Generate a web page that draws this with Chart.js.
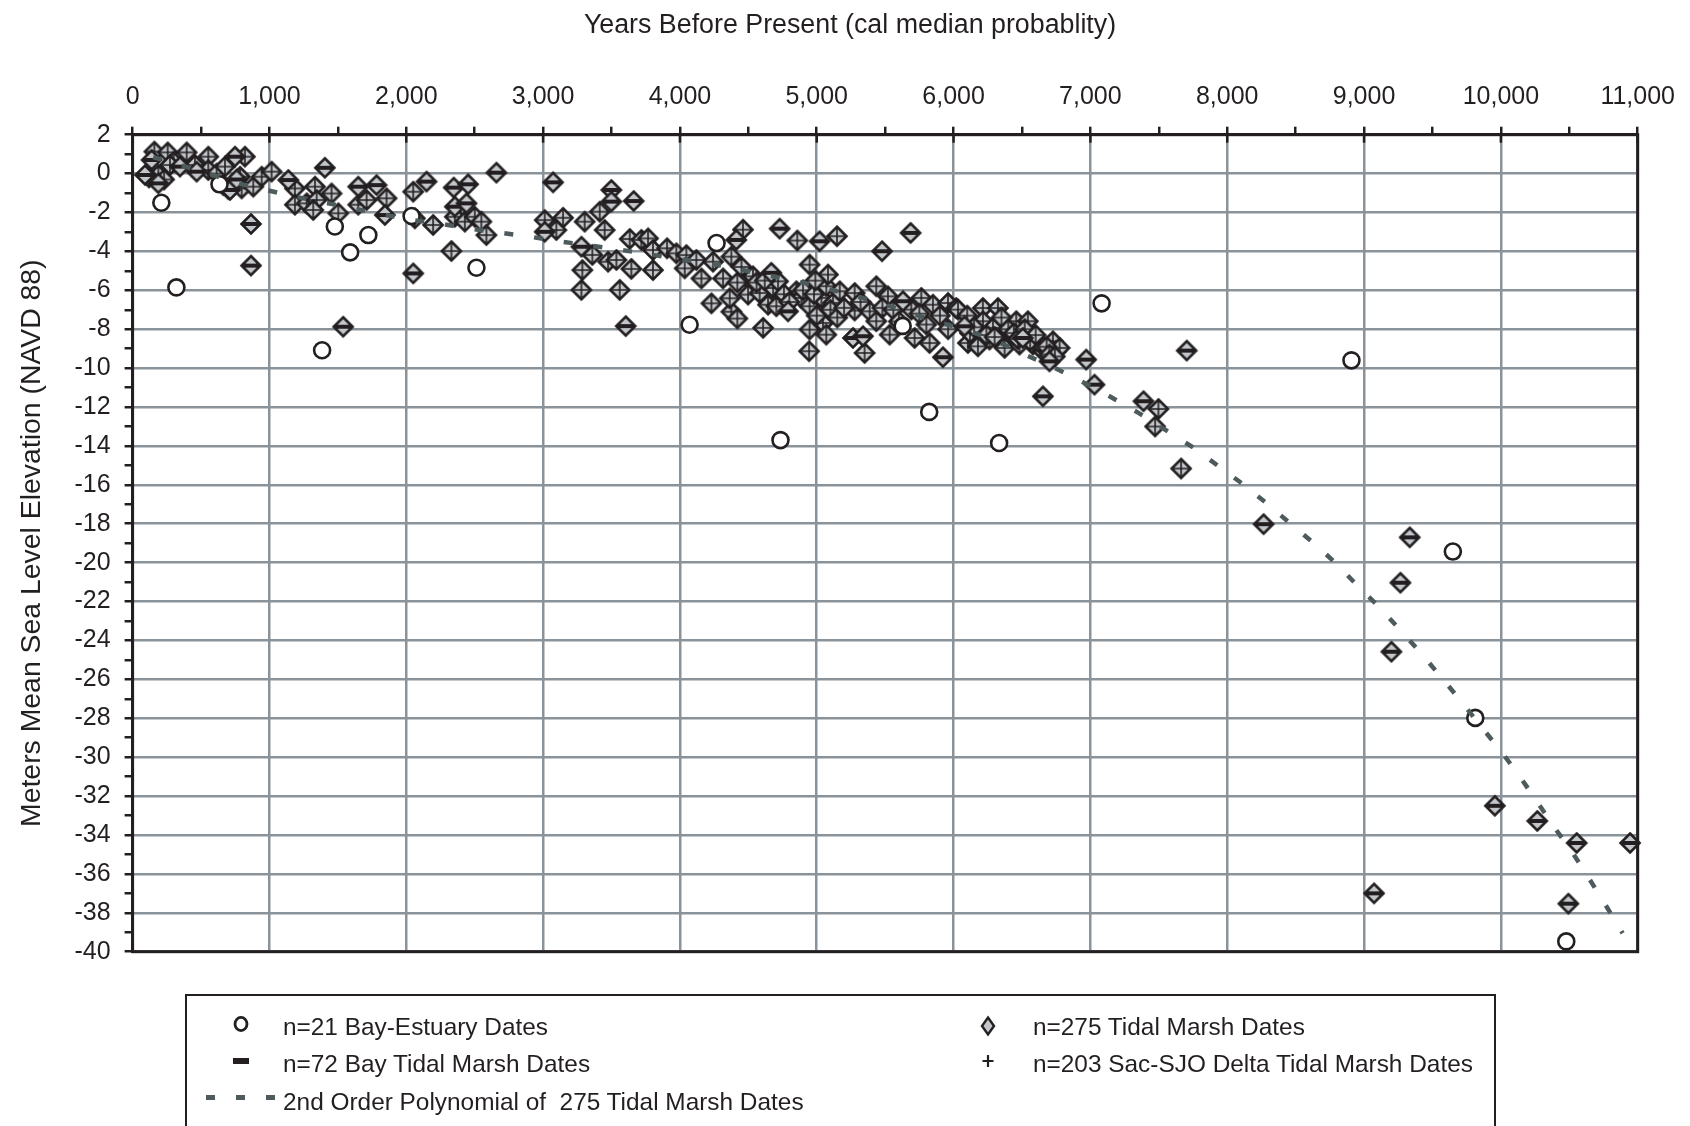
<!DOCTYPE html>
<html>
<head>
<meta charset="utf-8">
<script src="https://cdn.jsdelivr.net/npm/chart.js@4.4.1/dist/chart.umd.min.js"></script>
<style>
  html, body { margin: 0; padding: 0; background: #fff; overflow: hidden; }
  #wrap { position: relative; width: 1690px; height: 1126px; }
  #xtitle { position: absolute; left: 0; top: 8px; width: 1700px; text-align: center;
            font: 26.8px "Liberation Sans", Arial, sans-serif; color: #231f20; line-height: 32px; }
  #legend { position: absolute; left: 185px; top: 994px; width: 1311px; height: 150px;
            border: 2px solid #231f20; box-sizing: border-box; }
  .item { position: absolute; font: 24.4px "Liberation Sans", Arial, sans-serif; color: #231f20;
          line-height: 28px; white-space: pre; }
  .sym { position: absolute; }
</style>
</head>
<body>
<div id="wrap">
  <canvas id="chart" width="1690" height="1126"></canvas>
  <div id="xtitle">Years Before Present (cal median probablity)</div>
  <div id="legend">
    <svg class="sym" style="left:44px;top:18px" width="20" height="20"><ellipse cx="10" cy="10" rx="6" ry="6.6" fill="none" stroke="#231f20" stroke-width="2.8"/></svg>
    <div class="item" style="left:96px;top:17px">n=21 Bay-Estuary Dates</div>
    <svg class="sym" style="left:44px;top:55px" width="20" height="20"><rect x="2" y="7" width="16" height="6" fill="#231f20"/></svg>
    <div class="item" style="left:96px;top:54px">n=72 Bay Tidal Marsh Dates</div>
    <svg class="sym" style="left:16px;top:92px" width="76" height="20"><rect x="3" y="7" width="9" height="5" fill="#4d5b5d"/><rect x="33" y="7" width="9" height="5" fill="#4d5b5d"/><rect x="63" y="7" width="9" height="5" fill="#4d5b5d"/></svg>
    <div class="item" style="left:96px;top:92px">2nd Order Polynomial of  275 Tidal Marsh Dates</div>
    <svg class="sym" style="left:791px;top:19px" width="20" height="22"><path d="M10 2.5 L16 11 L10 19.5 L4 11 Z" fill="#c3c7cb" stroke="#231f20" stroke-width="2.4"/></svg>
    <div class="item" style="left:846px;top:17px">n=275 Tidal Marsh Dates</div>
    <svg class="sym" style="left:791px;top:55px" width="20" height="20"><path d="M10 4 V16 M4.5 10 H15.5" stroke="#231f20" stroke-width="2.2"/></svg>
    <div class="item" style="left:846px;top:54px">n=203 Sac-SJO Delta Tidal Marsh Dates</div>
  </div>
</div>
<script>
// axis ticks (majors get a label, the others are minor ticks)
const xTicks = [0, 500, 1000, 1500, 2000, 2500, 3000, 3500, 4000, 4500, 5000, 5500,
  6000, 6500, 7000, 7500, 8000, 8500, 9000, 9500, 10000, 10500, 11000];
const yTicks = [-40, -39, -38, -37, -36, -35, -34, -33, -32, -31, -30, -29, -28, -27, -26, -25,
  -24, -23, -22, -21, -20, -19, -18, -17, -16, -15, -14, -13, -12, -11, -10, -9, -8, -7, -6, -5,
  -4, -3, -2, -1, 0, 1, 2];

// [years before present, elevation m]
const bayEstuary = [[210, -1.5], [320, -5.85], [635, -0.55], [1385, -9.08], [1478, -2.72],
  [1590, -4.05], [1723, -3.16], [2039, -2.18], [2513, -4.84], [4071, -7.77], [4268, -3.57],
  [4735, -13.7], [5628, -7.83], [5822, -12.25], [6333, -13.85], [7082, -6.67], [8908, -9.6],
  [9649, -19.43], [9813, -27.98], [10478, -39.47]];

const bayTidalMarsh = [[139, 0.7], [91, -0.07], [188, -0.5], [346, 0.36], [468, 0.1], [748, 0.87],
  [663, -0.59], [712, -0.84], [760, -0.3], [865, -2.59], [865, -4.73], [1138, -0.33], [1405, 0.3],
  [1649, -0.67], [1783, -0.59], [1844, -2.13], [2148, -0.41], [2051, -5.13], [1539, -7.87],
  [2347, -0.72], [2452, -0.55], [2659, 0.05], [2355, -1.7], [2440, -1.53], [3073, -0.45],
  [3012, -2.99], [3499, -0.84], [3499, -1.44], [3662, -1.41], [3280, -3.76], [3604, -7.84],
  [4412, -3.41], [4729, -2.83], [5021, -3.48], [5686, -3.05], [5477, -3.99], [4668, -5.1],
  [4790, -7.08], [5265, -8.45], [5338, -8.36], [5630, -6.56], [5922, -9.44], [6080, -7.85],
  [6506, -8.45], [6701, -9.65], [6969, -9.56], [7030, -10.85], [6653, -11.45], [7704, -9.1],
  [7388, -11.7], [8266, -18.02], [9334, -18.7], [9266, -21.03], [9200, -24.58], [9073, -37.0],
  [9956, -32.5], [10266, -33.28], [10554, -34.41], [10944, -34.41], [10493, -37.53]];

const deltaTidalMarsh = [[159, 1.13], [256, 1.09], [395, 1.09], [553, 0.87], [188, -0.07],
  [120, -0.2], [230, -0.3], [300, 0.6], [273, 0.44], [456, 0.44], [553, 0.18], [614, 0],
  [675, 0.36], [700, -0.8], [821, 0.87], [797, -0.76], [882, -0.67], [785, -0.16], [943, -0.16],
  [1016, 0.1], [1186, -0.76], [1186, -1.6], [1272, -1.53], [1333, -0.67], [1345, -1.36],
  [1320, -1.87], [1454, -1.02], [1503, -2.04], [1649, -1.6], [1710, -1.36], [1856, -1.27],
  [2051, -0.93], [2063, -2.3], [2196, -2.64], [2355, -2.22], [2428, -2.47], [2501, -2.22],
  [2549, -2.47], [2586, -3.16], [2330, -3.98], [3012, -2.39], [3146, -2.27], [3097, -2.9],
  [3304, -2.47], [3414, -1.96], [3450, -2.9], [3360, -4.18], [3287, -4.96], [3280, -5.98],
  [3475, -4.53], [3536, -4.44], [3560, -5.98], [3633, -3.36], [3718, -3.41], [3767, -3.33],
  [3803, -3.93], [3645, -4.9], [3803, -4.96], [3906, -3.84], [3974, -4.1], [4047, -4.19],
  [4035, -4.87], [4120, -4.44], [4157, -5.39], [4242, -4.53], [4315, -5.39], [4230, -6.67],
  [4376, -4.27], [4376, -7.1], [4364, -6.41], [4420, -7.45], [4461, -2.88], [4858, -3.44],
  [5148, -3.22], [4948, -4.68], [4474, -5.28], [4534, -5.28], [4498, -6.22], [4583, -6.14],
  [4681, -5.88], [4717, -5.54], [4644, -6.74], [4705, -6.82], [4851, -6.05], [4888, -6.39],
  [4948, -5.88], [4948, -6.82], [5034, -6.39], [5070, -5.79], [5082, -5.19], [5119, -6.65],
  [5168, -6.05], [4948, -8.02], [5046, -7.68], [5070, -8.28], [4608, -7.93], [4944, -9.13],
  [5277, -6.14], [5277, -7.04], [5387, -7.08], [5435, -5.79], [5520, -6.31], [5435, -7.59],
  [5350, -9.22], [5533, -8.28], [5691, -6.99], [5715, -8.45], [5764, -6.39], [5801, -7.76],
  [5825, -8.71], [5849, -6.74], [5959, -6.65], [6019, -6.91], [6032, -6.99], [6214, -6.91],
  [6324, -6.91], [6105, -8.71], [6178, -8.88], [6287, -8.11], [6458, -7.59], [6543, -7.59],
  [6409, -8.45], [6580, -8.79], [6653, -9.13], [6726, -8.62], [6750, -9.13], [6775, -8.96],
  [6628, -8.7], [6373, -8.96], [6263, -8.53], [6215, -7.59], [6288, -7.93], [6482, -8.79],
  [6580, -8.45], [7497, -12.1], [7473, -13.0], [7663, -15.16],
  [4420, -5.6], [4450, -4.8], [4560, -5.6], [4620, -5.5], [4760, -6.2], [4800, -6.6],
  [4900, -6.0], [4980, -6.2], [4990, -5.5], [5000, -7.3], [5100, -7.0], [5150, -7.4],
  [5200, -6.9], [5320, -6.6], [5480, -6.9], [5560, -7.0], [5600, -7.6], [5750, -7.2],
  [5900, -7.3], [5960, -8.0], [6100, -7.3], [6120, -8.2], [6150, -7.9], [6240, -8.3],
  [6300, -8.4], [6350, -7.4], [6400, -8.0], [6440, -8.2], [6470, -8.5], [6520, -8.0],
  [6560, -8.6], [6600, -8.3], [6680, -8.9], [6700, -9.3], [6740, -9.4]];

// 2nd order polynomial trend
const trendLine = [[150, 0.85], [370, 0.4], [580, -0.05], [770, -0.5], [980, -0.85], [1200, -1.2],
  [1410, -1.5], [1620, -1.8], [1830, -2.1], [2060, -2.4], [2270, -2.6], [2480, -2.85],
  [2690, -3.04], [2900, -3.24], [3100, -3.47], [3300, -3.65], [3520, -3.88], [3740, -4.1],
  [3950, -4.36], [4170, -4.56], [4390, -4.84], [4610, -5.2], [4800, -5.45], [5020, -5.8],
  [5230, -6.2], [5440, -6.6], [5660, -7.1], [5870, -7.6], [6080, -8.0], [6310, -8.6],
  [6520, -9.3], [6714, -9.9], [6926, -10.65], [7140, -11.45], [7352, -12.3], [7554, -13.2],
  [7756, -14.1], [7944, -15.08], [8131, -16.05], [8305, -17.05], [8476, -18.08], [8644, -19.07],
  [8802, -20.08], [8951, -21.18], [9107, -22.25], [9261, -23.44], [9412, -24.62], [9561, -25.86],
  [9712, -27.15], [9863, -28.49], [10005, -29.73], [10139, -31.0], [10266, -32.3],
  [10395, -33.65], [10522, -34.89], [10644, -36.23], [10766, -37.61], [10890, -39.05]];

const ink = '#231f20';
const gridGray = '#8b939a';
const font = '"Liberation Sans", Arial, sans-serif';
const pts = arr => arr.map(p => ({x: p[0], y: p[1]}));

// gray diamond marker with a bar ('-') or a plus ('+') inside
function marker(kind) {
  const c = document.createElement('canvas');
  c.width = 24; c.height = 24;
  const g = c.getContext('2d');
  g.beginPath();
  g.moveTo(12, 2.5); g.lineTo(21.5, 12); g.lineTo(12, 21.5); g.lineTo(2.5, 12); g.closePath();
  g.fillStyle = '#c3c7cb';
  g.fill();
  g.lineWidth = 2.6;
  g.strokeStyle = ink;
  g.stroke();
  if (kind === 'bar') {
    g.fillStyle = ink;
    g.fillRect(3, 10, 18, 4);
  } else {
    g.lineWidth = 1.6;
    g.beginPath();
    g.moveTo(12, 4); g.lineTo(12, 20);
    g.moveTo(4, 12); g.lineTo(20, 12);
    g.stroke();
  }
  return c;
}

// black frame round the plot, and the short black stubs of the top major ticks
const framePlugin = {
  id: 'frame',
  beforeDatasetsDraw(chart) {
    const {ctx, chartArea: a, scales} = chart;
    ctx.save();
    ctx.strokeStyle = ink;
    ctx.lineWidth = 3;
    ctx.strokeRect(a.left, a.top, a.right - a.left, a.bottom - a.top);
    ctx.lineWidth = 2.5;
    xTicks.filter(v => v % 1000 === 0).forEach(v => {
      const px = scales.x.getPixelForValue(v);
      ctx.beginPath();
      ctx.moveTo(px, a.top);
      ctx.lineTo(px, a.top + 8);
      ctx.stroke();
    });
    ctx.restore();
  }
};

new Chart(document.getElementById('chart'), {
  type: 'scatter',
  data: {
    datasets: [
      {
        label: '2nd Order Polynomial',
        data: pts(trendLine),
        showLine: true,
        borderColor: '#4d5b5d',
        borderWidth: 4.5,
        borderDash: [9, 21],
        pointRadius: 0,
        tension: 0,
        order: 0
      },
      {
        label: 'Bay-Estuary Dates',
        data: pts(bayEstuary),
        pointStyle: 'circle',
        pointRadius: 8,
        pointBorderWidth: 2.6,
        pointBorderColor: ink,
        pointBackgroundColor: '#ffffff',
        order: 1
      },
      {
        label: 'Bay Tidal Marsh Dates',
        data: pts(bayTidalMarsh),
        pointStyle: marker('bar'),
        pointRadius: 9,
        order: 2
      },
      {
        label: 'Sac-SJO Delta Tidal Marsh Dates',
        data: pts(deltaTidalMarsh),
        pointStyle: marker('plus'),
        pointRadius: 9,
        order: 3
      }
    ]
  },
  options: {
    responsive: false,
    animation: false,
    devicePixelRatio: 1,
    events: [],
    clip: false,
    layout: { padding: { top: 0, left: 0, right: 52, bottom: 174.3 } },
    plugins: {
      legend: { display: false },
      tooltip: { enabled: false }
    },
    scales: {
      x: {
        type: 'linear',
        position: 'top',
        min: 0,
        max: 11000,
        afterBuildTicks: s => { s.ticks = xTicks.map(v => ({value: v})); },
        afterFit: s => { s.height = 134.7; },
        ticks: {
          autoSkip: false,
          maxRotation: 0,
          padding: 15,
          color: ink,
          font: { family: font, size: 25 },
          callback: v => (v % 1000 === 0 ? v.toLocaleString('en-US') : '')
        },
        grid: {
          color: c => (c.tick && c.tick.value % 1000 === 0 ? gridGray : 'transparent'),
          lineWidth: 2.5,
          tickLength: 8,
          tickColor: ink,
          tickWidth: 2.5
        },
        border: { color: ink, width: 3 }
      },
      y: {
        type: 'linear',
        min: -40,
        max: 2,
        afterBuildTicks: s => { s.ticks = yTicks.map(v => ({value: v})); },
        afterFit: s => { s.width = 132.6; },
        ticks: {
          autoSkip: false,
          padding: 14,
          color: ink,
          font: { family: font, size: 25 },
          callback: v => (v % 2 === 0 ? String(v) : '')
        },
        grid: {
          color: c => (c.tick && c.tick.value % 2 === 0 ? gridGray : 'transparent'),
          lineWidth: 2.5,
          tickLength: 8,
          tickColor: ink,
          tickWidth: 2.5
        },
        border: { color: ink, width: 3 },
        title: {
          display: true,
          text: 'Meters Mean Sea Level Elevation (NAVD 88)',
          color: ink,
          font: { family: font, size: 28.4 },
          padding: { top: 15 }
        }
      }
    }
  },
  plugins: [framePlugin]
});
</script>
</body>
</html>
